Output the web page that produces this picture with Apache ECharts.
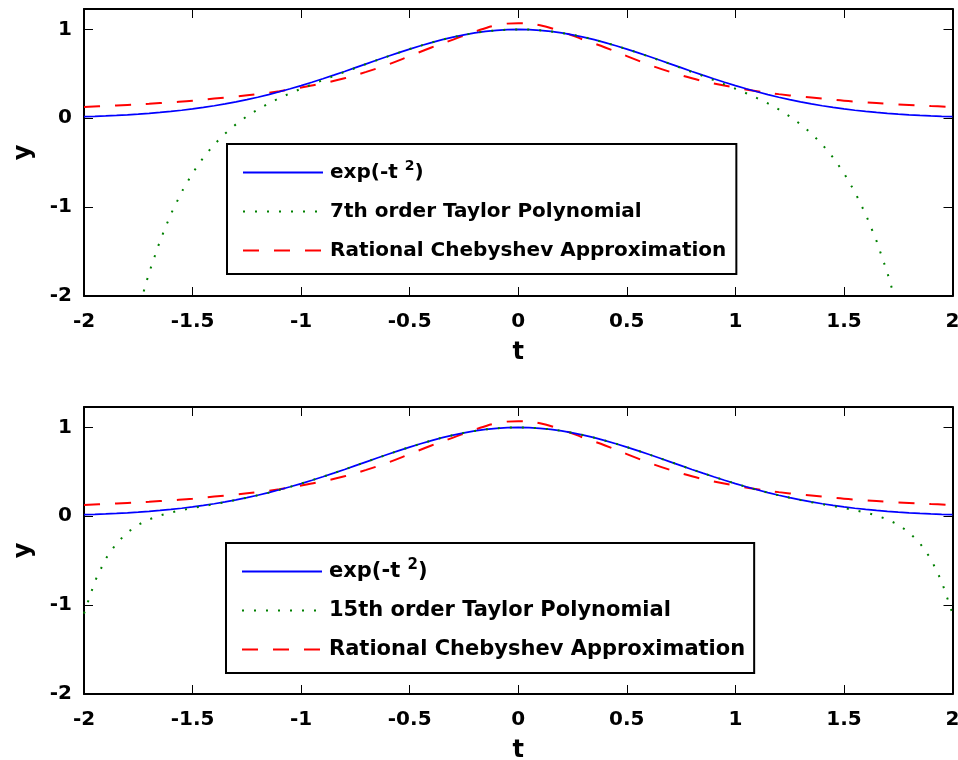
<!DOCTYPE html>
<html>
<head>
<meta charset="utf-8">
<script src="https://cdn.jsdelivr.net/npm/echarts@6/dist/echarts.min.js"></script>
<style>
html,body{margin:0;padding:0;background:#fff;overflow:hidden;}
#chart{width:958px;height:760px;}
</style>
</head>
<body>
<div id="chart"></div>
<script>
// ---- data ----
const tFine = [-2,-1.95,-1.9,-1.85,-1.8,-1.75,-1.7,-1.65,-1.6,-1.55,-1.5,-1.45,-1.4,-1.35,-1.3,-1.25,-1.2,-1.15,-1.1,-1.05,-1,-0.95,-0.9,-0.85,-0.8,-0.75,-0.7,-0.65,-0.6,-0.55,-0.5,-0.45,-0.4,-0.35,-0.3,-0.25,-0.2,-0.15,-0.1,-0.05,0,0.05,0.1,0.15,0.2,0.25,0.3,0.35,0.4,0.45,0.5,0.55,0.6,0.65,0.7,0.75,0.8,0.85,0.9,0.95,1,1.05,1.1,1.15,1.2,1.25,1.3,1.35,1.4,1.45,1.5,1.55,1.6,1.65,1.7,1.75,1.8,1.85,1.9,1.95,2];
const expVals = [0.0183,0.0223,0.0271,0.0326,0.0392,0.0468,0.0556,0.0657,0.0773,0.0905,0.1054,0.1221,0.1409,0.1616,0.1845,0.2096,0.2369,0.2665,0.2982,0.3321,0.3679,0.4056,0.4449,0.4855,0.5273,0.5698,0.6126,0.6554,0.6977,0.7390,0.7788,0.8167,0.8521,0.8847,0.9139,0.9394,0.9608,0.9778,0.9900,0.9975,1.0000,0.9975,0.9900,0.9778,0.9608,0.9394,0.9139,0.8847,0.8521,0.8167,0.7788,0.7390,0.6977,0.6554,0.6126,0.5698,0.5273,0.4855,0.4449,0.4056,0.3679,0.3321,0.2982,0.2665,0.2369,0.2096,0.1845,0.1616,0.1409,0.1221,0.1054,0.0905,0.0773,0.0657,0.0556,0.0468,0.0392,0.0326,0.0271,0.0223,0.0183];
const taylor7Vals = [-5.667,-4.736,-3.935,-3.247,-2.660,-2.160,-1.737,-1.380,-1.079,-0.828,-0.617,-0.441,-0.294,-0.171,-0.067,0.022,0.099,0.167,0.227,0.282,0.333,0.382,0.430,0.476,0.521,0.566,0.611,0.654,0.697,0.739,0.779,0.817,0.852,0.885,0.914,0.939,0.961,0.978,0.990,0.998,1.000,0.998,0.990,0.978,0.961,0.939,0.914,0.885,0.852,0.817,0.779,0.739,0.697,0.654,0.611,0.566,0.521,0.476,0.430,0.382,0.333,0.282,0.227,0.167,0.099,0.022,-0.067,-0.171,-0.294,-0.441,-0.617,-0.828,-1.079,-1.380,-1.737,-2.160,-2.660,-3.247,-3.935,-4.736,-5.667];
const taylor15Vals = [-1.095,-0.733,-0.478,-0.303,-0.181,-0.095,-0.035,0.009,0.042,0.069,0.093,0.115,0.136,0.159,0.183,0.209,0.236,0.266,0.298,0.332,0.368,0.406,0.445,0.486,0.527,0.570,0.613,0.655,0.698,0.739,0.779,0.817,0.852,0.885,0.914,0.939,0.961,0.978,0.990,0.998,1.000,0.998,0.990,0.978,0.961,0.939,0.914,0.885,0.852,0.817,0.779,0.739,0.698,0.655,0.613,0.570,0.527,0.486,0.445,0.406,0.368,0.332,0.298,0.266,0.236,0.209,0.183,0.159,0.136,0.115,0.093,0.069,0.042,0.009,-0.035,-0.095,-0.181,-0.303,-0.478,-0.733,-1.095];
const tCoarse = [-2,-1.9,-1.8,-1.7,-1.6,-1.5,-1.4,-1.3,-1.2,-1.1,-1,-0.9,-0.8,-0.7,-0.6,-0.5,-0.4,-0.3,-0.2,-0.1,0,0.1,0.2,0.3,0.4,0.5,0.6,0.7,0.8,0.9,1,1.1,1.2,1.3,1.4,1.5,1.6,1.7,1.8,1.9,2];
const rationalVals = [0.128,0.138,0.150,0.163,0.180,0.197,0.222,0.245,0.272,0.305,0.346,0.393,0.450,0.522,0.605,0.700,0.797,0.885,0.975,1.048,1.070,1.048,0.975,0.885,0.797,0.700,0.605,0.522,0.450,0.393,0.346,0.305,0.272,0.245,0.222,0.197,0.180,0.163,0.150,0.138,0.128];
const xTicks = [-2,-1.5,-1,-0.5,0,0.5,1,1.5,2];
const yTicks = [-2,-1,0,1];
const nameExp = 'exp(-t^2)';
const nameT7 = '7th order Taylor Polynomial';
const nameT15 = '15th order Taylor Polynomial';
const nameRat = 'Rational Chebyshev Approximation';

const FONT = "'DejaVu Sans', 'Liberation Sans', Arial, sans-serif";
const pair = (xs, ys) => xs.map((x, i) => [x, ys[i]]);

const chart = echarts.init(document.getElementById('chart'), null, {renderer: 'canvas'});

function xAxes(gi) {
  const base = {
    type: 'value', gridIndex: gi, min: -2, max: 2, interval: 0.5,
    axisLine: {onZero: false, lineStyle: {color: '#000', width: 2}},
    axisTick: {inside: true, length: 9, customValues: xTicks, lineStyle: {color: '#000', width: 1}},
    splitLine: {show: false}
  };
  return [
    Object.assign({}, base, {
      position: 'bottom',
      axisLabel: {customValues: xTicks, margin: 16, color: '#000', fontFamily: FONT, fontWeight: 'bold', fontSize: 20},
      name: 't', nameLocation: 'middle', nameGap: 45,
      nameTextStyle: {color: '#000', fontFamily: FONT, fontWeight: 'bold', fontSize: 24}
    }),
    Object.assign({}, base, {position: 'top', axisLabel: {show: false}})
  ];
}
function yAxes(gi) {
  const base = {
    type: 'value', gridIndex: gi, min: -2, max: 1.23, interval: 1,
    axisLine: {onZero: false, lineStyle: {color: '#000', width: 2}},
    axisTick: {inside: true, length: 9, customValues: yTicks, lineStyle: {color: '#000', width: 1}},
    splitLine: {show: false}
  };
  return [
    Object.assign({}, base, {
      position: 'left',
      axisLabel: {customValues: yTicks, margin: 12, color: '#000', fontFamily: FONT, fontWeight: 'bold', fontSize: 20},
      name: 'y', nameLocation: 'middle', nameGap: 48,
      nameTextStyle: {color: '#000', fontFamily: FONT, fontWeight: 'bold', fontSize: 24}
    }),
    Object.assign({}, base, {position: 'right', axisLabel: {show: false}})
  ];
}

function seriesFor(gi, taylorName, taylorVals) {
  const xi = gi * 2, yi = gi * 2;
  return [
    {name: nameExp, type: 'line', xAxisIndex: xi, yAxisIndex: yi, data: pair(tFine, expVals),
     symbol: 'none', smooth: false, clip: true, z: 3,
     lineStyle: {color: '#0000FF', width: 1.7, type: 'solid'}, itemStyle: {color: '#0000FF'}},
    {name: taylorName, type: 'line', xAxisIndex: xi, yAxisIndex: yi, data: pair(tFine, taylorVals),
     symbol: 'none', smooth: false, clip: true, z: 4,
     lineStyle: {color: '#008000', width: 2, type: [2, 10]}, itemStyle: {color: '#008000'}},
    {name: nameRat, type: 'line', xAxisIndex: xi, yAxisIndex: yi, data: pair(tCoarse, rationalVals),
     symbol: 'none', smooth: 0.4, clip: true, z: 2,
     lineStyle: {color: '#FF0000', width: 2, type: [16, 15]}, itemStyle: {color: '#FF0000'}}
  ];
}

function legendFor(names, left, top, fs, padR) {
  return {
    data: names, orient: 'vertical', left: left, top: top,
    itemWidth: 80, itemHeight: 14, itemGap: 12,
    padding: [15, padR, 10, 15],
    backgroundColor: '#fff', borderColor: '#000', borderWidth: 2, borderRadius: 0,
    selectedMode: false,
    itemStyle: {color: 'rgba(0,0,0,0)', borderWidth: 0},
    textStyle: {
      color: '#000', fontFamily: FONT, fontWeight: 'bold', fontSize: fs, lineHeight: 27, padding: [0, 0, 0, 2],
      rich: {
        m: {color: '#000', fontFamily: FONT, fontWeight: 'bold', fontSize: fs, lineHeight: 27},
        s: {color: '#000', fontFamily: FONT, fontWeight: 'bold', fontSize: Math.round(fs * 0.72), verticalAlign: 'top', lineHeight: 14}
      }
    },
    formatter: function (n) {
      if (n === nameExp) return '{m|exp(-t }{s|2}{m|)}';
      return n;
    }
  };
}

const option = {
  animation: false,
  backgroundColor: '#fff',
  grid: [
    {left: 84, top: 9, width: 868.5, height: 287, containLabel: false, outerBoundsMode: 'none'},
    {left: 84, top: 407, width: 868.5, height: 287, containLabel: false, outerBoundsMode: 'none'}
  ],
  xAxis: xAxes(0).concat(xAxes(1)),
  yAxis: yAxes(0).concat(yAxes(1)),
  legend: [
    legendFor([nameExp, nameT7, nameRat], 227, 144, 20, 10),
    legendFor([nameExp, nameT15, nameRat], 226, 543, 21, 9)
  ],
  series: seriesFor(0, nameT7, taylor7Vals).concat(seriesFor(1, nameT15, taylor15Vals))
};
chart.setOption(option);
</script>
</body>
</html>
